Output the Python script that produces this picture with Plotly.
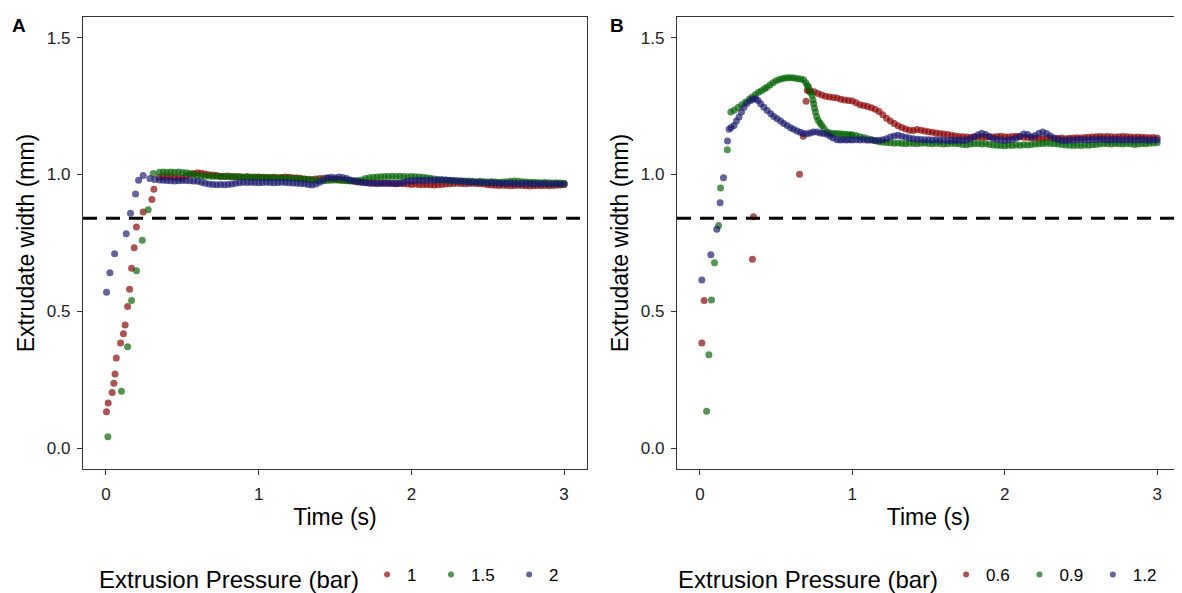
import plotly.graph_objects as go

# ---------------- Panel A data (Extrusion pressure 1, 1.5, 2 bar) ----------------
A_STEADY_T = [
    0.35, 0.375, 0.40, 0.425, 0.45, 0.475, 0.50, 0.525, 0.55, 0.575,
    0.60, 0.625, 0.65, 0.675, 0.70, 0.725, 0.75, 0.775, 0.80, 0.825,
    0.85, 0.875, 0.90, 0.925, 0.95, 0.975, 1.00, 1.025, 1.05, 1.075,
    1.10, 1.125, 1.15, 1.175, 1.20, 1.225, 1.25, 1.275, 1.30, 1.325,
    1.35, 1.375, 1.40, 1.425, 1.45, 1.475, 1.50, 1.525, 1.55, 1.575,
    1.60, 1.625, 1.65, 1.675, 1.70, 1.725, 1.75, 1.775, 1.80, 1.825,
    1.85, 1.875, 1.90, 1.925, 1.95, 1.975, 2.00, 2.025, 2.05, 2.075,
    2.10, 2.125, 2.15, 2.175, 2.20, 2.225, 2.25, 2.275, 2.30, 2.325,
    2.35, 2.375, 2.40, 2.425, 2.45, 2.475, 2.50, 2.525, 2.55, 2.575,
    2.60, 2.625, 2.65, 2.675, 2.70, 2.725, 2.75, 2.775, 2.80, 2.825,
    2.85, 2.875, 2.90, 2.925, 2.95, 2.975, 3.00,
]

A1_RAMP_T = [0.004, 0.015, 0.041, 0.052, 0.060, 0.068, 0.096, 0.115, 0.126, 0.142,
             0.155, 0.168, 0.185, 0.200, 0.244, 0.301, 0.314]
A1_RAMP_W = [0.134, 0.166, 0.204, 0.238, 0.272, 0.330, 0.385, 0.419, 0.451, 0.518,
             0.581, 0.658, 0.733, 0.808, 0.863, 0.909, 0.946]
A1_STEADY_W = [
    0.990, 0.992, 0.993, 0.992, 0.990, 0.988, 0.986, 0.995, 1.000, 1.004,
    1.006, 1.005, 1.002, 0.999, 0.998, 0.996, 0.994, 0.993, 0.995, 0.992,
    0.993, 0.991, 0.990, 0.992, 0.990, 0.989, 0.991, 0.990, 0.988, 0.989,
    0.990, 0.988, 0.989, 0.991, 0.990, 0.988, 0.987, 0.986, 0.984, 0.983,
    0.982, 0.984, 0.985, 0.986, 0.985, 0.984, 0.983, 0.982, 0.980, 0.979,
    0.977, 0.975, 0.973, 0.972, 0.971, 0.970, 0.971, 0.970, 0.969, 0.968,
    0.969, 0.967, 0.966, 0.967, 0.966, 0.965, 0.964, 0.965, 0.964, 0.963,
    0.964, 0.963, 0.962, 0.963, 0.964, 0.965, 0.966, 0.967, 0.968, 0.967,
    0.966, 0.967, 0.968, 0.967, 0.966, 0.965, 0.963, 0.962, 0.961, 0.960,
    0.961, 0.960, 0.959, 0.960, 0.961, 0.960, 0.959, 0.958, 0.959, 0.960,
    0.959, 0.960, 0.959, 0.960, 0.961, 0.962, 0.963,
]

A15_RAMP_T = [0.013, 0.102, 0.142, 0.168, 0.200, 0.238, 0.277, 0.310]
A15_RAMP_W = [0.043, 0.209, 0.371, 0.540, 0.649, 0.760, 0.871, 1.004]
A15_STEADY_W = [
    1.008, 1.009, 1.008, 1.009, 1.008, 1.009, 1.007, 1.006, 1.004, 1.000,
    0.996, 0.995, 0.994, 0.995, 0.993, 0.994, 0.993, 0.994, 0.992, 0.993,
    0.992, 0.993, 0.991, 0.992, 0.990, 0.991, 0.990, 0.989, 0.990, 0.988,
    0.989, 0.987, 0.988, 0.986, 0.987, 0.985, 0.986, 0.984, 0.983, 0.981,
    0.980, 0.979, 0.978, 0.977, 0.978, 0.979, 0.980, 0.979, 0.978, 0.977,
    0.976, 0.977, 0.978, 0.980, 0.985, 0.988, 0.990, 0.991, 0.992, 0.993,
    0.993, 0.994, 0.993, 0.994, 0.993, 0.992, 0.993, 0.992, 0.991, 0.990,
    0.988, 0.986, 0.984, 0.982, 0.980, 0.979, 0.978, 0.977, 0.976, 0.976,
    0.975, 0.976, 0.975, 0.974, 0.975, 0.974, 0.973, 0.974, 0.973, 0.972,
    0.973, 0.974, 0.975, 0.976, 0.975, 0.974, 0.973, 0.972, 0.972, 0.971,
    0.970, 0.971, 0.970, 0.969, 0.970, 0.969, 0.968,
]

A2_RAMP_T = [0.004, 0.026, 0.057, 0.133, 0.161, 0.194, 0.214, 0.244, 0.288, 0.320]
A2_RAMP_W = [0.570, 0.641, 0.711, 0.784, 0.859, 0.929, 0.979, 0.996, 0.985, 0.982]
A2_STEADY_W = [
    0.980, 0.979, 0.978, 0.977, 0.976, 0.977, 0.978, 0.978, 0.977, 0.976,
    0.975, 0.972, 0.968, 0.965, 0.964, 0.963, 0.964, 0.963, 0.964, 0.965,
    0.968, 0.970, 0.972, 0.971, 0.972, 0.971, 0.970, 0.971, 0.972, 0.971,
    0.970, 0.971, 0.972, 0.971, 0.970, 0.969, 0.968, 0.967, 0.966, 0.964,
    0.962, 0.965, 0.972, 0.980, 0.988, 0.990, 0.988, 0.991, 0.989, 0.985,
    0.980, 0.976, 0.974, 0.972, 0.970, 0.968, 0.967, 0.966, 0.967, 0.968,
    0.967, 0.968, 0.967, 0.969, 0.972, 0.975, 0.977, 0.978, 0.979, 0.978,
    0.979, 0.980, 0.979, 0.980, 0.981, 0.980, 0.979, 0.978, 0.977, 0.976,
    0.975, 0.974, 0.973, 0.972, 0.972, 0.971, 0.970, 0.971, 0.970, 0.969,
    0.968, 0.967, 0.968, 0.967, 0.966, 0.967, 0.968, 0.967, 0.966, 0.967,
    0.966, 0.967, 0.966, 0.965, 0.966, 0.965, 0.966,
]

# ---------------- Panel B data (Extrusion pressure 0.6, 0.9, 1.2 bar) ----------------
B_STEADY_T = [
    1.00, 1.025, 1.05, 1.075, 1.10, 1.125, 1.15, 1.175, 1.20, 1.225,
    1.25, 1.275, 1.30, 1.325, 1.35, 1.375, 1.40, 1.425, 1.45, 1.475,
    1.50, 1.525, 1.55, 1.575, 1.60, 1.625, 1.65, 1.675, 1.70, 1.725,
    1.75, 1.775, 1.80, 1.825, 1.85, 1.875, 1.90, 1.925, 1.95, 1.975,
    2.00, 2.025, 2.05, 2.075, 2.10, 2.125, 2.15, 2.175, 2.20, 2.225,
    2.25, 2.275, 2.30, 2.325, 2.35, 2.375, 2.40, 2.425, 2.45, 2.475,
    2.50, 2.525, 2.55, 2.575, 2.60, 2.625, 2.65, 2.675, 2.70, 2.725,
    2.75, 2.775, 2.80, 2.825, 2.85, 2.875, 2.90, 2.925, 2.95, 2.975,
    3.00,
]

B06_EARLY_T = [0.013, 0.028, 0.345, 0.352, 0.654, 0.678, 0.697, 0.705, 0.715, 0.725,
               0.75, 0.775, 0.80, 0.825, 0.85, 0.875, 0.90, 0.925, 0.95, 0.975]
B06_EARLY_W = [0.385, 0.540, 0.691, 0.846, 1.001, 1.140, 1.267, 1.308, 1.306, 1.305,
               1.302, 1.296, 1.290, 1.286, 1.283, 1.281, 1.279, 1.275, 1.272, 1.270]
B06_STEADY_W = [
    1.268, 1.262, 1.255, 1.252, 1.248, 1.244, 1.238, 1.230, 1.218, 1.205,
    1.195, 1.186, 1.178, 1.172, 1.166, 1.162, 1.161, 1.164, 1.162, 1.159,
    1.156, 1.154, 1.152, 1.150, 1.148, 1.146, 1.143, 1.141, 1.139, 1.138,
    1.137, 1.136, 1.138, 1.137, 1.135, 1.136, 1.138, 1.137, 1.139, 1.140,
    1.138, 1.137, 1.139, 1.140, 1.138, 1.136, 1.135, 1.134, 1.133, 1.132,
    1.131, 1.133, 1.132, 1.131, 1.132, 1.133, 1.131, 1.132, 1.133, 1.134,
    1.133, 1.135, 1.136, 1.137, 1.138, 1.139, 1.138, 1.139, 1.138, 1.137,
    1.138, 1.139, 1.138, 1.137, 1.136, 1.137, 1.136, 1.135, 1.134, 1.135,
    1.133,
]

B09_EARLY_T = [0.044, 0.059, 0.076, 0.096, 0.123, 0.136, 0.180, 0.203, 0.225, 0.250,
               0.275, 0.300, 0.325, 0.344, 0.365, 0.385, 0.405, 0.425, 0.440, 0.460,
               0.480, 0.500, 0.520, 0.540, 0.560, 0.580, 0.600, 0.620, 0.640, 0.660,
               0.680, 0.695, 0.705, 0.714, 0.725, 0.736, 0.742, 0.747, 0.752, 0.758,
               0.766, 0.776, 0.788, 0.800, 0.815, 0.834, 0.850, 0.870, 0.890, 0.910,
               0.930, 0.950, 0.970, 0.990]
B09_EARLY_W = [0.136, 0.342, 0.542, 0.678, 0.814, 0.951, 1.090, 1.228, 1.235, 1.245,
               1.255, 1.265, 1.276, 1.283, 1.292, 1.300, 1.306, 1.313, 1.319, 1.327,
               1.335, 1.342, 1.347, 1.350, 1.352, 1.353, 1.353, 1.352, 1.350, 1.349,
               1.346, 1.335, 1.325, 1.319, 1.300, 1.289, 1.272, 1.258, 1.243, 1.228,
               1.212, 1.198, 1.188, 1.179, 1.168, 1.155, 1.152, 1.150, 1.150, 1.149,
               1.148, 1.147, 1.146, 1.145]
B09_STEADY_W = [
    1.144, 1.142, 1.138, 1.135, 1.131, 1.127, 1.123, 1.120, 1.118, 1.117,
    1.116, 1.114, 1.115, 1.113, 1.112, 1.114, 1.113, 1.112, 1.114, 1.115,
    1.113, 1.112, 1.114, 1.113, 1.111, 1.112, 1.114, 1.113, 1.112, 1.110,
    1.109, 1.111, 1.112, 1.113, 1.111, 1.112, 1.110, 1.108, 1.107, 1.106,
    1.105, 1.107, 1.106, 1.108, 1.107, 1.109, 1.108, 1.110, 1.111, 1.112,
    1.113, 1.114, 1.113, 1.112, 1.111, 1.110, 1.108, 1.107, 1.106, 1.107,
    1.106, 1.108, 1.107, 1.109, 1.110, 1.112, 1.113, 1.112, 1.111, 1.113,
    1.112, 1.111, 1.113, 1.112, 1.110, 1.111, 1.113, 1.112, 1.114, 1.115,
    1.116,
]

B12_EARLY_T = [0.013, 0.072, 0.111, 0.133, 0.155, 0.181, 0.192, 0.205, 0.224, 0.240,
               0.257, 0.273, 0.290, 0.310, 0.333, 0.350, 0.366, 0.382, 0.399, 0.420,
               0.442, 0.465, 0.485, 0.507, 0.530, 0.550, 0.573, 0.595, 0.615, 0.638,
               0.660, 0.680, 0.703, 0.725, 0.745, 0.768, 0.790, 0.810, 0.834, 0.855,
               0.875, 0.899, 0.920, 0.940, 0.960, 0.980]
B12_EARLY_W = [0.615, 0.707, 0.800, 0.897, 0.988, 1.122, 1.165, 1.172, 1.179, 1.195,
               1.210, 1.228, 1.246, 1.260, 1.270, 1.275, 1.277, 1.270, 1.258, 1.246,
               1.234, 1.222, 1.212, 1.204, 1.195, 1.186, 1.179, 1.171, 1.165, 1.159,
               1.154, 1.150, 1.149, 1.152, 1.155, 1.155, 1.152, 1.150, 1.147, 1.140,
               1.133, 1.127, 1.126, 1.127, 1.126, 1.127]
B12_STEADY_W = [
    1.126, 1.127, 1.126, 1.127, 1.125, 1.126, 1.124, 1.125, 1.127, 1.131,
    1.137, 1.141, 1.143, 1.140, 1.136, 1.133, 1.131, 1.129, 1.128, 1.127,
    1.127, 1.126, 1.127, 1.125, 1.126, 1.124, 1.125, 1.124, 1.125, 1.124,
    1.126, 1.130, 1.137, 1.145, 1.151, 1.146, 1.138, 1.131, 1.128, 1.126,
    1.124, 1.126, 1.128, 1.132, 1.140, 1.148, 1.146, 1.138, 1.142, 1.151,
    1.155, 1.150, 1.141, 1.133, 1.128, 1.125, 1.124, 1.126, 1.125, 1.127,
    1.128, 1.127, 1.126, 1.128, 1.127, 1.129, 1.128, 1.126, 1.127, 1.128,
    1.127, 1.126, 1.127, 1.128, 1.126, 1.127, 1.128, 1.126, 1.125, 1.127,
    1.126,
]

THRESHOLD = 0.84
A_LABELS = ["1", "1.5", "2"]
B_LABELS = ["0.6", "0.9", "1.2"]
COLORS = ["#8b0000", "#006400", "#191970"]

A_SERIES = [
    (A1_RAMP_T + A_STEADY_T, A1_RAMP_W + A1_STEADY_W),
    (A15_RAMP_T + A_STEADY_T, A15_RAMP_W + A15_STEADY_W),
    (A2_RAMP_T + A_STEADY_T, A2_RAMP_W + A2_STEADY_W),
]
B_SERIES = [
    (B06_EARLY_T + B_STEADY_T, B06_EARLY_W + B06_STEADY_W),
    (B09_EARLY_T + B_STEADY_T, B09_EARLY_W + B09_STEADY_W),
    (B12_EARLY_T + B_STEADY_T, B12_EARLY_W + B12_STEADY_W),
]

FONT = "Liberation Sans, Arial, sans-serif"
AXC = "#333333"
OPAC = 0.68
NBSP = "\u00a0"

fig = go.Figure()

for series, labels, xa, ya, lg, pad in [
    (A_SERIES, A_LABELS, "x", "y", "legend", 2),
    (B_SERIES, B_LABELS, "x2", "y2", "legend2", 1),
]:
    for (t, w), lab, col in zip(series, labels, COLORS):
        fig.add_trace(go.Scatter(
            x=t, y=w, mode="markers", xaxis=xa, yaxis=ya,
            marker=dict(color=col, size=7, opacity=OPAC, line=dict(width=0)),
            showlegend=False, name=lab, hoverinfo="x+y",
        ))
    for lab, col in zip(labels, COLORS):
        fig.add_trace(go.Scatter(
            x=[None], y=[None], mode="markers", xaxis=xa, yaxis=ya,
            marker=dict(color=col, size=6, opacity=OPAC),
            name=lab + NBSP * pad, showlegend=True, legend=lg,
        ))
    fig.add_shape(type="line", xref=f"{xa} domain", yref=ya, x0=0, x1=1,
                  y0=THRESHOLD, y1=THRESHOLD,
                  line=dict(color="black", width=3, dash="14px,9px"), layer="above")

# page body adds an 8px margin, so the figure is laid out in shifted coordinates
OFF = 8
W, H = 1182 - OFF, 593 - OFF
ML, MT = 83 - OFF, 17 - OFF
PLOT_RIGHT, PLOT_BOTTOM = 1180 - OFF, 469 - OFF
MR, MB = W - PLOT_RIGHT, H - PLOT_BOTTOM
PW, PH = PLOT_RIGHT - ML, PLOT_BOTTOM - MT

def fx(px):
    return (px - OFF - ML) / PW

def fy(py):
    return (PLOT_BOTTOM - (py - OFF)) / PH

axis_common = dict(
    showgrid=False, zeroline=False, showline=True, linecolor=AXC, linewidth=1.3,
    mirror=True, ticks="outside", ticklen=5, tickwidth=1.3, tickcolor=AXC,
    tickfont=dict(family=FONT, size=17, color="#222222"),
)

xax = dict(axis_common, range=[-0.15, 3.15], tickvals=[0, 1, 2, 3],
           ticklabelstandoff=4,
           title=dict(text="Time (s)", font=dict(family=FONT, size=23, color="black"), standoff=6))
yax = dict(axis_common, range=[-0.075, 1.575], tickvals=[0, 0.5, 1.0, 1.5],
           ticktext=["0.0", "0.5", "1.0", "1.5"], ticklabelstandoff=3,
           title=dict(text="Extrudate width (mm)", font=dict(family=FONT, size=23, color="black"), standoff=5))

legend_common = dict(
    orientation="h", xanchor="left", yanchor="middle", y=fy(578),
    title=dict(text="Extrusion Pressure (bar)", font=dict(family=FONT, size=24, color="black")),
    font=dict(family=FONT, size=17, color="black"), bgcolor="rgba(0,0,0,0)", itemwidth=30,
)

fig.update_layout(
    width=W, height=H,
    margin=dict(l=ML, r=MR, t=MT, b=MB, autoexpand=False),
    paper_bgcolor="white", plot_bgcolor="white",
    font=dict(family=FONT, color="black"),
    xaxis=dict(xax, domain=[0, fx(587)], anchor="y"),
    yaxis=dict(yax, domain=[0, 1], anchor="x"),
    xaxis2=dict(xax, domain=[fx(677), 1], anchor="y2"),
    yaxis2=dict(yax, domain=[0, 1], anchor="x2"),
    legend=dict(legend_common, x=fx(97)),
    legend2=dict(legend_common, x=fx(676)),
    annotations=[
        dict(text="<b>A</b>", xref="paper", yref="paper", x=fx(19), y=fy(25),
             showarrow=False, font=dict(family=FONT, size=19, color="black"),
             xanchor="center", yanchor="middle"),
        dict(text="<b>B</b>", xref="paper", yref="paper", x=fx(617), y=fy(25),
             showarrow=False, font=dict(family=FONT, size=19, color="black"),
             xanchor="center", yanchor="middle"),
    ],
)

fig.write_html("out.html")
